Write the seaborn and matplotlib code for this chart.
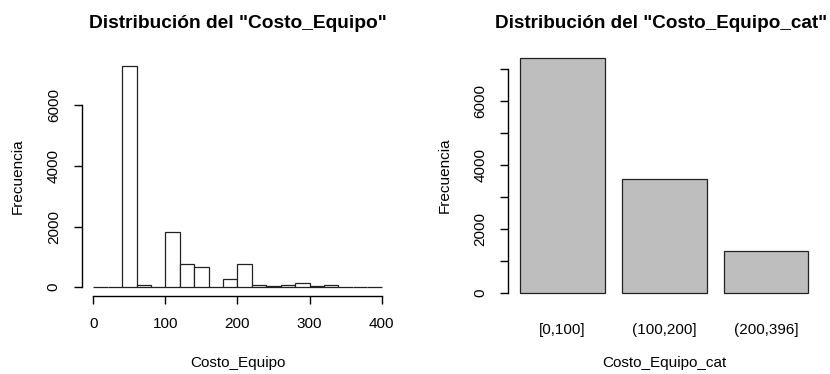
import matplotlib
matplotlib.use("Agg")
import matplotlib.pyplot as plt
import seaborn as sns
import numpy as np
import pandas as pd

# ---- data ----
bin_edges = list(range(0, 420, 20))
hist_counts = [0, 0, 7300, 65, 0, 1834, 773, 674, 0, 265,
               777, 78, 22, 78, 144, 22, 78, 0, 0, 0]
cat_labels = ["[0,100]", "(100,200]", "(200,396]"]
cat_counts = [7365, 3568, 1305]

left_ticks = [0, 2000, 4000, 6000]
left_xticks = [0, 100, 200, 300, 400]
right_ticks = [0, 1000, 2000, 3000, 4000, 5000, 6000, 7000]
right_ticklabels = ["0", "", "2000", "", "4000", "", "6000", ""]

sns.set_theme(style="white")
plt.rcParams["font.family"] = ["Liberation Sans", "DejaVu Sans"]
plt.rcParams["text.color"] = "black"
plt.rcParams["axes.labelcolor"] = "black"
plt.rcParams["xtick.color"] = "black"
plt.rcParams["ytick.color"] = "black"

W, H = 830, 374
fig = plt.figure(figsize=(W / 100, H / 100), dpi=100)


def axes_px(left, top, right, bottom):
    return fig.add_axes([left / W, 1 - bottom / H, (right - left) / W, (bottom - top) / H])


# ---- left: histogram ----
axL = axes_px(81.7, 57.2, 393.2, 296.0)
centers = [(bin_edges[i] + bin_edges[i + 1]) / 2 for i in range(len(hist_counts))]
df_h = pd.DataFrame({"Costo_Equipo": centers, "n": hist_counts})
sns.histplot(data=df_h, x="Costo_Equipo", weights="n", bins=bin_edges,
             color="white", edgecolor="#222222", linewidth=0.9, alpha=1, ax=axL)
ymaxL = max(hist_counts)
axL.set_xlim(-16, 416)
axL.set_ylim(-0.04 * ymaxL, 1.04 * ymaxL)
for s in ["top", "right"]:
    axL.spines[s].set_visible(False)
axL.spines["left"].set_bounds(0, 6000)
axL.spines["bottom"].set_bounds(0, 400)
for s in ["left", "bottom"]:
    axL.spines[s].set_color("black")
    axL.spines[s].set_linewidth(1.0)
axL.set_yticks(left_ticks)
axL.set_yticklabels([str(t) for t in left_ticks], rotation=90, va="center")
axL.set_xticks(left_xticks)
axL.set_xticklabels([str(t) for t in left_xticks])
axL.tick_params(axis="both", direction="out", length=6, width=1.0, labelsize=11,
                left=True, bottom=True)
axL.tick_params(axis="y", pad=9)
axL.tick_params(axis="x", pad=9)
axL.set_xlabel("Costo_Equipo", fontsize=11)
axL.set_ylabel("Frecuencia", fontsize=11)
axL.xaxis.set_label_coords(0.5, -(363 - 296) / (296 - 57.2))
axL.xaxis.label.set_va("center")
axL.yaxis.set_label_coords(-(81.7 - 18) / (393.2 - 81.7), 0.5)
axL.yaxis.label.set_va("center")
axL.set_title('Distribución del "Costo_Equipo"', fontsize=13.8, fontweight="bold",
              y=1 + (57.2 - 27.5) / (296 - 57.2), va="baseline", pad=0)
axL.grid(False)

# ---- right: bar chart ----
axR = axes_px(508.3, 48.3, 820.0, 302.4)
df_c = pd.DataFrame({"Costo_Equipo_cat": cat_labels, "Frecuencia": cat_counts})
sns.barplot(data=df_c, x="Costo_Equipo_cat", y="Frecuencia", color="#BEBEBE",
            saturation=1, edgecolor="#222222", linewidth=0.9, width=1 / 1.2, ax=axR)
ymaxR = max(cat_counts)
axR.set_xlim(-0.53, 2.53)
axR.set_ylim(-0.04 * ymaxR, 1.04 * ymaxR)
for s in ["top", "right", "bottom"]:
    axR.spines[s].set_visible(False)
axR.spines["left"].set_bounds(0, 7000)
axR.spines["left"].set_color("black")
axR.spines["left"].set_linewidth(1.0)
axR.set_yticks(right_ticks)
axR.set_yticklabels(right_ticklabels, rotation=90, va="center")
axR.tick_params(axis="y", direction="out", length=6, width=1.0, labelsize=11, left=True, pad=9)
axR.tick_params(axis="x", length=0, labelsize=11, pad=15)
axR.set_xlabel("Costo_Equipo_cat", fontsize=11)
axR.set_ylabel("Frecuencia", fontsize=11)
axR.xaxis.set_label_coords(0.5, -(363 - 302.4) / (302.4 - 48.3))
axR.xaxis.label.set_va("center")
axR.yaxis.set_label_coords(-(508.3 - 445) / (820 - 508.3), 0.5)
axR.yaxis.label.set_va("center")
tR = axR.set_title('Distribución del "Costo_Equipo_cat"', fontsize=13.6, fontweight="bold",
                   y=1 + (48.3 - 27.5) / (302.4 - 48.3), va="baseline", pad=0)
tR.set_ha("right")
tR.set_x((827.5 - 508.3) / (820 - 508.3))
axR.grid(False)

fig.savefig("out.png", dpi=100, facecolor="white")
